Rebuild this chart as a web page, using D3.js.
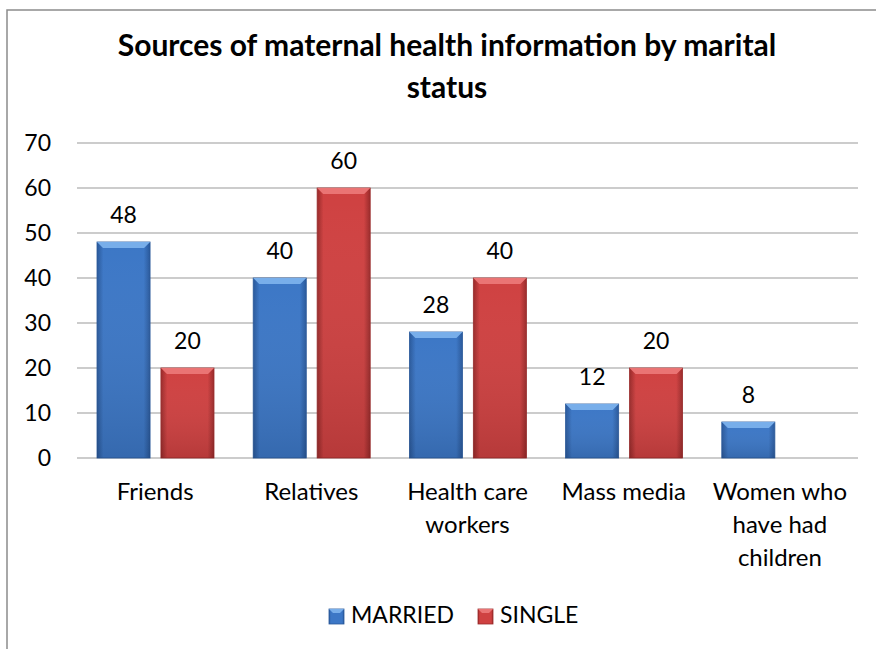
<!DOCTYPE html>
<html>
<head>
<meta charset="utf-8">
<script src="https://cdn.jsdelivr.net/npm/d3@7"></script>
<style>
  body { margin: 0; background: #fff; }
  svg { display: block; font-family: Lato, "Noto Sans", sans-serif; }
</style>
</head>
<body>
<svg id="chart"></svg>
<script>
// data
const categories = ["Friends", "Relatives", "Health care workers", "Mass media", "Women who have had children"];
const categoryLines = [["Friends"], ["Relatives"], ["Health care", "workers"], ["Mass media"], ["Women who", "have had", "children"]];
const seriesNames = ["MARRIED", "SINGLE"];
const married = [48, 40, 28, 12, 8];
const single = [20, 60, 40, 20, null];
const yTicks = [0, 10, 20, 30, 40, 50, 60, 70];

const W = 876, H = 649;
const plot = { left: 77, right: 858, top: 143, bottom: 458 };

const svg = d3.select("#chart").attr("width", W).attr("height", H);

// colours for both series
const colors = {
  MARRIED: { mid: "#3c77c6", dark: "#29589a", light: "#78aeea" },
  SINGLE: { mid: "#cf4141", dark: "#992a2a", light: "#ea7474" }
};

const defs = svg.append("defs");
seriesNames.forEach(s => {
  const g = defs.append("linearGradient").attr("id", "grad-" + s).attr("x1", 0).attr("x2", 1).attr("y1", 0).attr("y2", 0);
  g.append("stop").attr("offset", "0%").attr("stop-color", colors[s].dark);
  g.append("stop").attr("offset", "12%").attr("stop-color", colors[s].mid);
  g.append("stop").attr("offset", "88%").attr("stop-color", colors[s].mid);
  g.append("stop").attr("offset", "100%").attr("stop-color", colors[s].dark);
  const v = defs.append("linearGradient").attr("id", "vgrad-" + s).attr("x1", 0).attr("x2", 0).attr("y1", 0).attr("y2", 1);
  v.append("stop").attr("offset", "0%").attr("stop-color", "#fff").attr("stop-opacity", 0);
  v.append("stop").attr("offset", "100%").attr("stop-color", "#000").attr("stop-opacity", 0.12);
});

// outer frame (left and top)
svg.append("path")
  .attr("d", `M7,${H} L7,10 L${W},10`)
  .attr("fill", "none").attr("stroke", "#8c8c8c").attr("stroke-width", 1.5);

// title
const title = svg.append("text")
  .attr("text-anchor", "middle")
  .attr("font-weight", "bold").attr("font-size", 30).attr("fill", "#000");
title.append("tspan").attr("x", 447).attr("y", 56).text("Sources of maternal health information by marital");
title.append("tspan").attr("x", 447).attr("y", 98).text("status");

// scales
const x0 = d3.scaleBand().domain(categories).range([plot.left, plot.right]);
const x1 = d3.scaleBand().domain(seriesNames).range([20, 137]).paddingInner(0.17);
const y = d3.scaleLinear().domain([0, 70]).range([plot.bottom, plot.top]);

// gridlines
svg.append("g").selectAll("line").data(yTicks).join("line")
  .attr("x1", plot.left).attr("x2", plot.right)
  .attr("y1", d => y(d)).attr("y2", d => y(d))
  .attr("stroke", "#9a9a9a").attr("stroke-width", 1.2);

// y axis labels
const yAxis = svg.append("g")
  .attr("transform", `translate(${plot.left},0)`)
  .call(d3.axisLeft(y).tickValues(yTicks).tickSize(0).tickPadding(26));
yAxis.select(".domain").remove();
yAxis.selectAll("text").attr("font-size", 23).attr("font-family", "Lato, 'Noto Sans', sans-serif").attr("fill", "#000");

// bars
const rows = categories.map((c, i) => ({ cat: c, values: [
  { s: "MARRIED", v: married[i] }, { s: "SINGLE", v: single[i] }
]}));

const groups = svg.append("g").selectAll("g").data(rows).join("g")
  .attr("transform", d => `translate(${x0(d.cat)},0)`);

const bars = groups.selectAll("g.bar").data(d => d.values.filter(e => e.v != null)).join("g")
  .attr("class", "bar");

const bw = x1.bandwidth();
const bev = 6;

bars.append("rect")
  .attr("x", d => x1(d.s)).attr("y", d => y(d.v))
  .attr("width", bw).attr("height", d => y(0) - y(d.v))
  .attr("fill", d => `url(#grad-${d.s})`)
  .attr("stroke", d => colors[d.s].dark).attr("stroke-width", 0.8);

bars.append("rect")
  .attr("x", d => x1(d.s)).attr("y", d => y(d.v))
  .attr("width", bw).attr("height", d => y(0) - y(d.v))
  .attr("fill", d => `url(#vgrad-${d.s})`);

// top bevel
bars.append("path")
  .attr("d", d => {
    const xl = x1(d.s), xr = xl + bw, yt = y(d.v);
    return `M${xl},${yt} L${xr},${yt} L${xr - bev},${yt + bev} L${xl + bev},${yt + bev} Z`;
  })
  .attr("fill", d => colors[d.s].light);

// value labels
groups.selectAll("text.val").data(d => d.values.filter(e => e.v != null)).join("text")
  .attr("class", "val")
  .attr("x", d => x1(d.s) + bw / 2).attr("y", d => y(d.v) - 19)
  .attr("text-anchor", "middle").attr("font-size", 23).attr("fill", "#000")
  .text(d => d.v);

// category labels
const catText = svg.append("g").selectAll("text").data(categories).join("text")
  .attr("text-anchor", "middle").attr("font-size", 24).attr("fill", "#000");
catText.selectAll("tspan").data((d, i) => categoryLines[i].map(l => ({ l, c: d }))).join("tspan")
  .attr("x", d => x0(d.c) + x0.bandwidth() / 2)
  .attr("y", (d, j) => 500 + j * 33)
  .text(d => d.l);

// legend
const legendX = [329, 478];
const legend = svg.append("g").selectAll("g").data(seriesNames).join("g")
  .attr("transform", (d, i) => `translate(${legendX[i]},609)`);
legend.append("rect").attr("width", 15).attr("height", 15)
  .attr("fill", d => `url(#grad-${d})`).attr("stroke", d => colors[d].dark).attr("stroke-width", 0.8);
legend.append("path").attr("d", "M0,0 L15,0 L11,4 L4,4 Z").attr("fill", d => colors[d].light);
legend.append("text").attr("x", 22).attr("y", 14).attr("font-size", 23).attr("fill", "#000").text(d => d);
</script>
</body>
</html>
